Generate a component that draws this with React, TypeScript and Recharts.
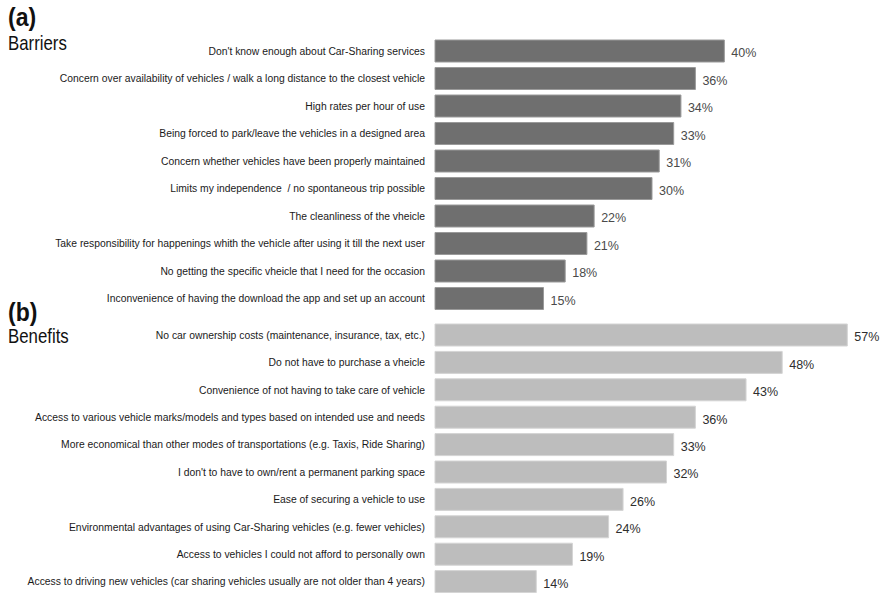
import { BarChart, Bar, XAxis, YAxis, LabelList } from "recharts";

const barrierLabels = [
  "Don't know enough about Car-Sharing services",
  "Concern over availability of vehicles / walk a long distance to the closest vehicle",
  "High rates per hour of use",
  "Being forced to park/leave the vehicles in a designed area",
  "Concern whether vehicles have been properly maintained",
  "Limits my independence  / no spontaneous trip possible",
  "The cleanliness of the vheicle",
  "Take responsibility for happenings whith the vehicle after using it till the next user",
  "No getting the specific vheicle that I need for the occasion",
  "Inconvenience of having the download the app and set up an account",
];
const barrierValues = [40, 36, 34, 33, 31, 30, 22, 21, 18, 15];

const benefitLabels = [
  "No car ownership costs (maintenance, insurance, tax, etc.)",
  "Do not have to purchase a vheicle",
  "Convenience of not having to take care of vehicle",
  "Access to various vehicle marks/models and types based on intended use and needs",
  "More economical than other modes of transportations (e.g. Taxis, Ride Sharing)",
  "I don't to have to own/rent a permanent parking space",
  "Ease of securing a vehicle to use",
  "Environmental advantages of using Car-Sharing vehicles (e.g. fewer vehicles)",
  "Access to vehicles I could not afford to personally own",
  "Access to driving new vehicles (car sharing vehicles usually are not older than 4 years)",
];
const benefitValues = [57, 48, 43, 36, 33, 32, 26, 24, 19, 14];

const barriers = barrierLabels.map((label, i) => ({ label, value: barrierValues[i] }));
const benefits = benefitLabels.map((label, i) => ({ label, value: benefitValues[i] }));

const sans = "'Liberation Sans', Arial, Helvetica, sans-serif";

// the source figure uses a condensed face, so squeeze the text horizontally
const CategoryTick = (props: any) => {
  const { x, y, payload } = props;
  return (
    <text
      transform={`translate(${x},${y}) scale(0.9,1)`}
      dy={4}
      textAnchor="end"
      fontFamily={sans}
      fontSize={11.5}
      fill="#1a1a1a"
      style={{ whiteSpace: "pre" }}
    >
      {payload.value}
    </text>
  );
};

function Panel({
  data,
  height,
  top,
  fill,
  stroke,
  labelColor,
}: {
  data: { label: string; value: number }[];
  height: number;
  top: number;
  fill: string;
  stroke: string;
  labelColor: string;
}) {
  return (
    <BarChart
      width={881}
      height={height}
      data={data}
      layout="vertical"
      margin={{ top, right: 12, bottom: 0, left: 0 }}
    >
      <XAxis type="number" domain={[0, 60]} hide />
      <YAxis
        type="category"
        dataKey="label"
        width={435}
        axisLine={false}
        tickLine={false}
        tickSize={0}
        tickMargin={10}
        interval={0}
        tick={<CategoryTick />}
      />
      <Bar
        dataKey="value"
        fill={fill}
        stroke={stroke}
        strokeWidth={1}
        barSize={22}
        isAnimationActive={false}
      >
        <LabelList
          dataKey="value"
          position="right"
          offset={7}
          formatter={(v: any) => `${v}%`}
          style={{ fontFamily: sans, fontSize: 12.5, fill: labelColor, transform: "translateY(2px)" }}
        />
      </Bar>
    </BarChart>
  );
}

const titleStyle: React.CSSProperties = {
  position: "absolute",
  left: 8,
  fontFamily: sans,
  color: "#111",
  lineHeight: 1,
  margin: 0,
  transformOrigin: "left top",
};

export default function App() {
  return (
    <div
      style={{
        position: "absolute",
        left: 0,
        top: 0,
        width: 881,
        height: 593,
        overflow: "hidden",
        background: "#fff",
      }}
    >
      <div style={{ position: "absolute", left: 0, top: 0 }}>
        <Panel data={barriers} height={312} top={37} fill="#6f6f6f" stroke="#9a9a9a" labelColor="#4a4a4a" />
      </div>
      <div style={{ position: "absolute", left: 0, top: 312 }}>
        <Panel data={benefits} height={283} top={9} fill="#bdbdbd" stroke="#d4d4d4" labelColor="#2e2e2e" />
      </div>
      <div style={{ ...titleStyle, top: 5, fontSize: 25, fontWeight: 700, transform: "scaleX(0.92)" }}>(a)</div>
      <div style={{ ...titleStyle, top: 32, fontSize: 21, transform: "scaleX(0.8)" }}>Barriers</div>
      <div style={{ ...titleStyle, top: 300, fontSize: 25, fontWeight: 700, transform: "scaleX(0.92)" }}>(b)</div>
      <div style={{ ...titleStyle, top: 325, fontSize: 21, transform: "scaleX(0.8)" }}>Benefits</div>
    </div>
  );
}
